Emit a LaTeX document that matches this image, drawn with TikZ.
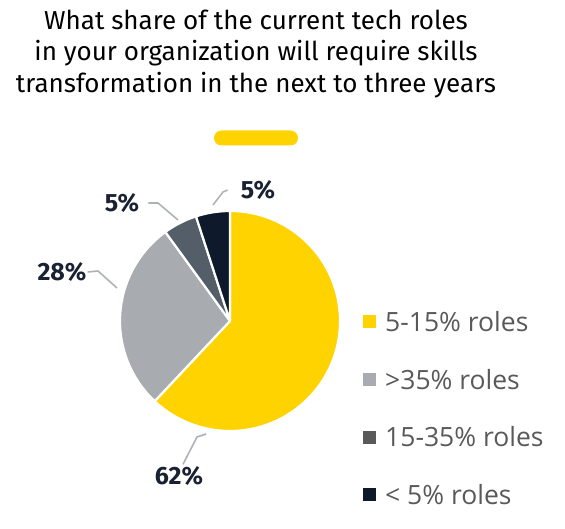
\documentclass[tikz,border=0pt]{standalone}
\usepackage{fontspec}
\setmainfont{Fira Sans}
\newfontfamily\legendfont{Open Sans}
\definecolor{eyYellow}{HTML}{FFD300}
\definecolor{eyGrey}{HTML}{A8ACB1}
\definecolor{eySlate}{HTML}{535E69}
\definecolor{eyNavy}{HTML}{0E1A2C}
\definecolor{eyDark}{HTML}{5A5A5A}
\definecolor{legGrey}{HTML}{595959}
\definecolor{labNavy}{HTML}{1A2133}
\definecolor{leadGrey}{HTML}{AEB2B7}

\begin{document}
\begin{tikzpicture}[x=1pt,y=1pt,
  slice/.style={draw=white,line width=2.2pt,line join=round},
  pct/.style={font=\bfseries\fontsize{25}{25}\selectfont,text=labNavy,inner sep=2pt},
  leader/.style={draw=leadGrey,line width=1.6pt},
  swatch/.style={minimum size=13pt,inner sep=0pt},
  legtext/.style={font=\legendfont\fontsize{26.5}{26.5}\selectfont,text=legGrey,anchor=west,inner sep=0pt}]
  \useasboundingbox (0,0) rectangle (565,-529);
  % title and bar
  \node[align=center,font=\fontsize{26}{31.5}\selectfont] (title) at (256,-54)
    {What share of the current tech roles\\in your organization will require skills\\transformation in the next to three years};
  \node[fill=eyYellow,rounded corners=7.5pt,minimum width=84pt,minimum height=15pt,inner sep=0pt] (bar) at (256,-138) {};
  % pie
  \coordinate (c) at (230,-321);
  \path[slice,fill=eyYellow] (c) -- ++(90:110) arc[start angle=90,end angle=-133.2,radius=110] -- cycle;
  \path[slice,fill=eyGrey] (c) -- ++(-133.2:110) arc[start angle=-133.2,end angle=-234,radius=110] -- cycle;
  \path[slice,fill=eySlate] (c) -- ++(-234:110) arc[start angle=-234,end angle=-252,radius=110] -- cycle;
  \path[slice,fill=eyNavy] (c) -- ++(-252:110) arc[start angle=-252,end angle=-270,radius=110] -- cycle;
  % labels
  \node[pct] (p62) at (179,-476) {62\%};
  \node[pct] (p28) at (62,-272) {28\%};
  \node[pct] (p5a) at (122,-203) {5\%};
  \node[pct] (p5b) at (258,-190) {5\%};
  \coordinate (k62) at (197,-437);  \coordinate (e62) at (206,-434);
  \coordinate (k28) at (98,-271);   \coordinate (e28) at (117,-288);
  \coordinate (k5a) at (158,-203);  \coordinate (e5a) at (178,-220);
  \coordinate (k5b) at (223,-192);  \coordinate (e5b) at (213,-205);
  \draw[leader] ([xshift=4pt]p62.north) -- (k62) -- (e62);
  \draw[leader] ([xshift=-1pt]p28.east) -- (k28) -- (e28);
  \draw[leader] ([xshift=7pt]p5a.east) -- (k5a) -- (e5a);
  \draw[leader] ([xshift=-11pt]p5b.west) -- (k5b) -- (e5b);
  % legend
  \foreach \y/\col/\txt [count=\i] in {-322/eyYellow/5-15\% roles,-379.5/eyGrey/>35\% roles,-437/eyDark/15-35\% roles,-494.5/eyNavy/< 5\% roles}{
    \node[swatch,fill=\col] (sw\i) at (369,\y) {};
    \node[legtext] (lt\i) at (385,\y) {\txt};
  }
\end{tikzpicture}
\end{document}
